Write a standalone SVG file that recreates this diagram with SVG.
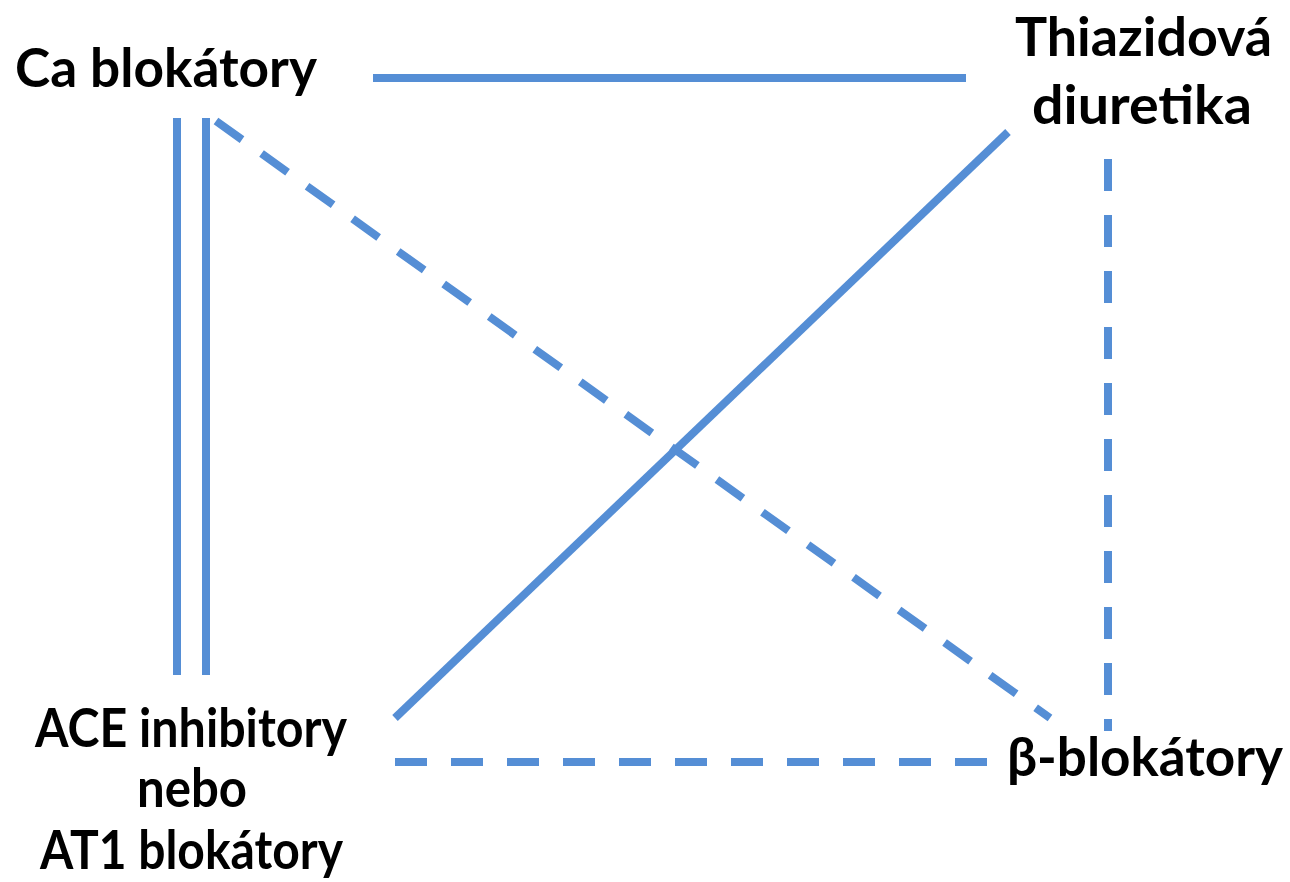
<svg xmlns="http://www.w3.org/2000/svg" width="1290" height="882" viewBox="0 0 1290 882">
<style>
.t{font-family:Lato,"Open Sans","Liberation Sans",sans-serif;font-weight:bold;font-size:54px;fill:#000}
.c{stroke:#558ED5;stroke-width:8;fill:none}
.d{stroke-dasharray:32 24}
</style>
<rect width="1290" height="882" fill="#fff"/>
<g id="connectors">
<line class="c" x1="373" y1="78" x2="966" y2="78"/>
<line class="c" x1="177" y1="118" x2="177" y2="675"/>
<line class="c" x1="206" y1="118" x2="206" y2="675"/>
<line class="c d" x1="216" y1="121" x2="1050" y2="718"/>
<line class="c" x1="395" y1="718" x2="1008" y2="132"/>
<line class="c d" x1="1108" y1="159" x2="1108" y2="731"/>
<line class="c d" x1="395" y1="762" x2="1016" y2="762"/>
</g>
<g id="ca">
<text class="t" x="15" y="87" textLength="302" lengthAdjust="spacingAndGlyphs">Ca blokátory</text>
</g>
<g id="thiazid">
<text class="t" x="1015" y="56" textLength="257" lengthAdjust="spacingAndGlyphs">Thiazidová</text>
<text class="t" x="1032" y="124" textLength="220" lengthAdjust="spacingAndGlyphs">diuretika</text>
</g>
<g id="ace">
<text class="t" x="35" y="747" textLength="312" lengthAdjust="spacingAndGlyphs">ACE inhibitory</text>
<text class="t" x="137" y="807" textLength="110" lengthAdjust="spacingAndGlyphs">nebo</text>
<text class="t" x="40" y="869" textLength="303" lengthAdjust="spacingAndGlyphs">AT1 blokátory</text>
</g>
<g id="beta">
<text class="t" x="1007" y="776" textLength="276" lengthAdjust="spacingAndGlyphs">β-blokátory</text>
</g>
</svg>
